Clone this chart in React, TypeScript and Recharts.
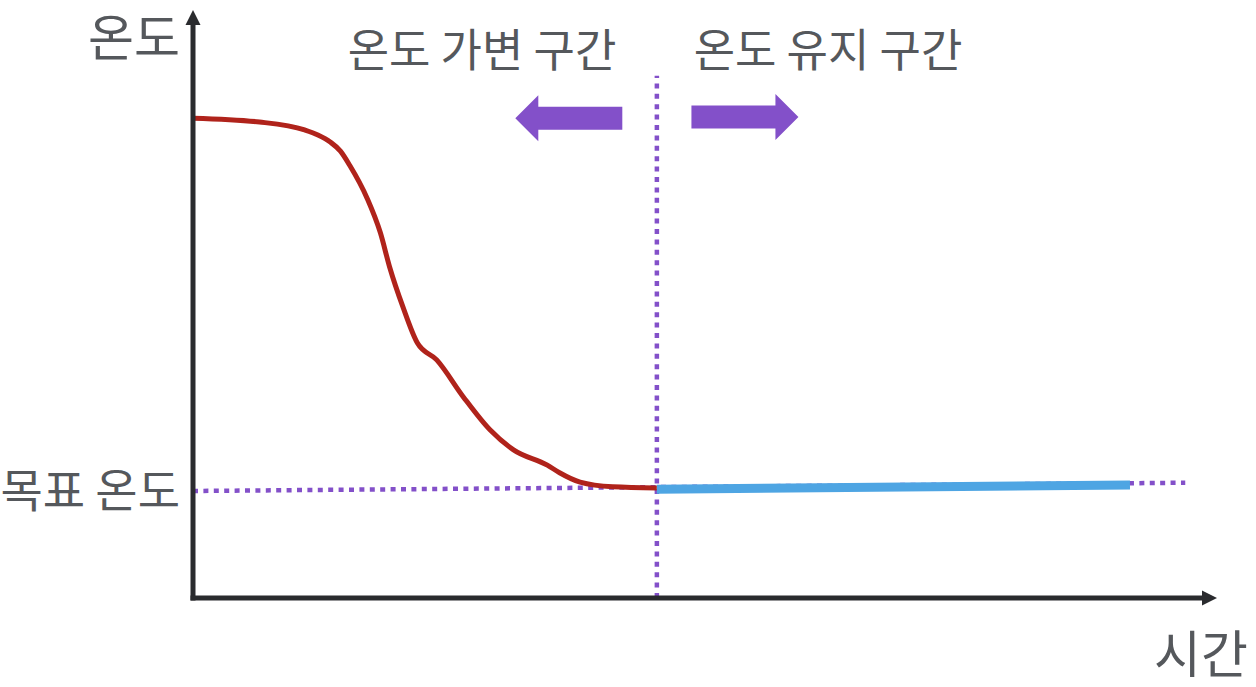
import React from "react";
import { LineChart, Line, XAxis, YAxis, ReferenceLine, ReferenceDot } from "recharts";

// time (0-100) vs temperature (0-100)
const coolingCurve = [
  { t: 0, temp: 81.6 },
  { t: 6.5, temp: 80.95 },
  { t: 10.9, temp: 79.6 },
  { t: 12.2, temp: 78.74 },
  { t: 13.4, temp: 77.55 },
  { t: 14.4, temp: 76.0 },
  { t: 15.3, temp: 73.6 },
  { t: 17.0, temp: 68.0 },
  { t: 18.3, temp: 62.1 },
  { t: 19.2, temp: 56.3 },
  { t: 20.5, temp: 49.5 },
  { t: 21.9, temp: 43.4 },
  { t: 23.8, temp: 40.5 },
  { t: 26.4, temp: 34.2 },
  { t: 29.0, temp: 28.6 },
  { t: 31.3, temp: 25.2 },
  { t: 34.6, temp: 22.6 },
  { t: 35.8, temp: 21.3 },
  { t: 37.8, temp: 19.7 },
  { t: 41.0, temp: 18.9 },
  { t: 45.3, temp: 18.7 },
];

const holdLine = [
  { t: 45.3, temp: 18.5 },
  { t: 91.5, temp: 19.2 },
];

const targetLine = [
  { t: 0, temp: 18.2 },
  { t: 96.9, temp: 19.6 },
];

const switchTime = 45.3;
const switchTop = 88.8;
const leftArrowAt = { t: 36.7, temp: 81.6 };
const rightArrowAt = { t: 53.9, temp: 81.8 };

const labels = {
  yAxis: "온도",
  xAxis: "시간",
  target: "목표 온도",
  variable: "온도 가변 구간",
  hold: "온도 유지 구간",
};

const AXIS = "#2a2b2e";
const PURPLE = "#8350c9";
const TEXT = "#55585c";
const FONT = "'Noto Sans CJK KR', 'Noto Sans', sans-serif";

// axis line ending in a triangle head
const axisShape = (props: any) => {
  const { x1, y1, x2, y2 } = props;
  const dx = x2 - x1;
  const dy = y2 - y1;
  const len = Math.sqrt(dx * dx + dy * dy) || 1;
  const ux = dx / len;
  const uy = dy / len;
  const head = 15;
  const half = 7.5;
  const bx = x2 - ux * head;
  const by = y2 - uy * head;
  const pts = [
    `${x2},${y2}`,
    `${bx - uy * half},${by + ux * half}`,
    `${bx + uy * half},${by - ux * half}`,
  ].join(" ");
  return (
    <g>
      <line x1={x1} y1={y1} x2={bx + ux * 1} y2={by + uy * 1} stroke={AXIS} strokeWidth={5} strokeLinecap="square" />
      <polygon points={pts} fill={AXIS} />
    </g>
  );
};

const blockArrow = (dir: number) => (props: any) => {
  const { cx, cy } = props;
  const L = 53.5;
  const headLen = 23;
  const shaft = 11.5;
  const headH = 23;
  const p = (ox: number, oy: number) => `${cx + dir * ox},${cy + oy}`;
  const pts = [
    p(-L, -shaft),
    p(L - headLen, -shaft),
    p(L - headLen, -headH),
    p(L, 0),
    p(L - headLen, headH),
    p(L - headLen, shaft),
    p(-L, shaft),
  ].join(" ");
  return <polygon points={pts} fill={PURPLE} />;
};

export default function App() {
  return (
    <div style={{ position: "absolute", left: 0, top: 0, background: "#fff" }}>
      <LineChart
        width={1256}
        height={687}
        margin={{ top: 10, right: 39, bottom: 89, left: 193 }}
      >
        <XAxis type="number" dataKey="t" domain={[0, 100]} hide allowDataOverflow />
        <YAxis type="number" dataKey="temp" domain={[0, 100]} hide allowDataOverflow />

        <Line
          data={targetLine}
          dataKey="temp"
          type="linear"
          stroke={PURPLE}
          strokeWidth={4.5}
          strokeDasharray="5 5.4"
          dot={false}
          activeDot={false}
          isAnimationActive={false}
        />
        <ReferenceLine
          segment={[
            { x: switchTime, y: 0 },
            { x: switchTime, y: switchTop },
          ]}
          stroke={PURPLE}
          strokeWidth={4.5}
          strokeDasharray="5 5.4"
        />
        <Line
          data={coolingCurve}
          dataKey="temp"
          type="monotone"
          stroke="#b0231b"
          strokeWidth={5}
          dot={false}
          activeDot={false}
          isAnimationActive={false}
        />
        <Line
          data={holdLine}
          dataKey="temp"
          type="linear"
          stroke="#4ea5e3"
          strokeWidth={9}
          dot={false}
          activeDot={false}
          isAnimationActive={false}
        />

        <ReferenceLine
          segment={[
            { x: 0, y: 0 },
            { x: 0, y: 100 },
          ]}
          shape={axisShape}
        />
        <ReferenceLine
          segment={[
            { x: 0, y: 0 },
            { x: 100, y: 0 },
          ]}
          shape={axisShape}
        />

        <ReferenceDot x={leftArrowAt.t} y={leftArrowAt.temp} shape={blockArrow(-1)} />
        <ReferenceDot x={rightArrowAt.t} y={rightArrowAt.temp} shape={blockArrow(1)} />

        <text x={134} y={34} fill={TEXT} fontSize={50} fontFamily={FONT} textAnchor="middle" dominantBaseline="central">
          {labels.yAxis}
        </text>
        <text x={1201} y={651} fill={TEXT} fontSize={51} fontFamily={FONT} textAnchor="middle" dominantBaseline="central">
          {labels.xAxis}
        </text>
        <text x={180} y={487} fill={TEXT} fontSize={46} fontFamily={FONT} textAnchor="end" dominantBaseline="central">
          {labels.target}
        </text>
        <text x={482} y={47} fill={TEXT} fontSize={45} fontFamily={FONT} textAnchor="middle" dominantBaseline="central">
          {labels.variable}
        </text>
        <text x={828} y={47} fill={TEXT} fontSize={45} fontFamily={FONT} textAnchor="middle" dominantBaseline="central">
          {labels.hold}
        </text>
      </LineChart>
    </div>
  );
}
